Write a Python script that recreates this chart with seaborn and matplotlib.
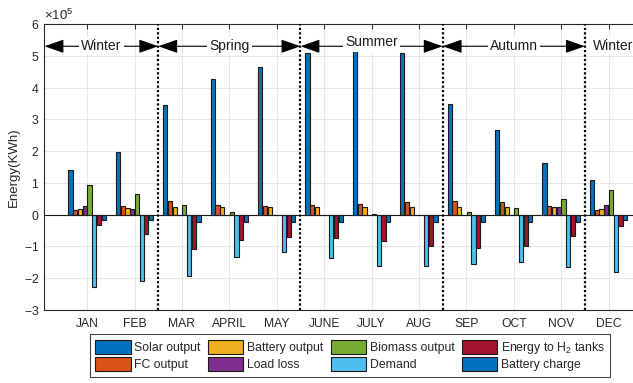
import matplotlib
matplotlib.use("Agg")
import matplotlib.pyplot as plt
import numpy as np
import pandas as pd
import seaborn as sns
from matplotlib.patches import Rectangle
from matplotlib.legend_handler import HandlerPatch
from matplotlib.ticker import ScalarFormatter, MultipleLocator

# Monthly energy balance (kWh)
months = ["JAN", "FEB", "MAR", "APRIL", "MAY", "JUNE", "JULY", "AUG",
          "SEP", "OCT", "NOV", "DEC"]
series = ["Solar output", "FC output", "Battery output", "Load loss",
          "Biomass output", "Demand", "Energy to H$_2$ tanks", "Battery charge"]

solar_output = [142000, 196000, 346000, 428000, 464000, 508000,
                523000, 508000, 348000, 266000, 163000, 110000]
fc_output = [15000, 26000, 44000, 32000, 28000, 29000,
             34000, 41000, 43000, 41000, 28000, 15000]
battery_output = [19000, 20000, 23000, 23000, 25000, 24000,
                  24000, 25000, 23000, 23000, 23000, 18000]
load_loss = [26000, 17000, 0, 0, 0, 0, 0, 0, 0, 0, 23000, 32000]
biomass_output = [93000, 66000, 29000, 9000, 0, 0,
                  1000, 0, 7000, 21000, 48000, 79000]
demand = [-227000, -210000, -194000, -134000, -117000, -136000,
          -163000, -163000, -155000, -149000, -165000, -181000]
energy_to_h2 = [-32000, -61000, -108000, -79000, -71000, -72000,
                -84000, -98000, -104000, -100000, -66000, -36000]
battery_charge = [-17000, -18000, -24000, -23000, -23000, -24000,
                  -24000, -24000, -24000, -24000, -22000, -17000]

seasons = ["Winter", "Spring", "Summer", "Autumn", "Winter"]

colors = ["#0072BD", "#D95319", "#EDB120", "#7E2F8E",
          "#77AC30", "#4DBEEE", "#A2142F", "#0072BD"]

values = [solar_output, fc_output, battery_output, load_loss,
          biomass_output, demand, energy_to_h2, battery_charge]
df = pd.DataFrame({
    "month": np.repeat([months], len(series), axis=0).ravel(),
    "series": np.repeat(series, len(months)),
    "energy": np.concatenate(values),
})

sns.set_theme(style="white")
plt.rcParams["font.family"] = ["Liberation Sans", "DejaVu Sans"]
plt.rcParams["mathtext.fontset"] = "custom"
plt.rcParams["mathtext.rm"] = "Liberation Sans"
plt.rcParams["mathtext.it"] = "Liberation Sans"
plt.rcParams["axes.unicode_minus"] = False

fig = plt.figure(figsize=(6.33, 3.83), dpi=100)
ax = fig.add_axes([0.0703, 0.1906, 0.9585, 0.7467])

sns.barplot(data=df, x="month", y="energy", hue="series", order=months,
            hue_order=series, palette=dict(zip(series, colors)),
            saturation=1, errorbar=None, dodge=True, width=0.8, gap=0.12,
            edgecolor="#1a1a1a", linewidth=0.8, ax=ax, zorder=3)

ax.set_xlim(-0.9, 11.9)
ax.set_ylim(-3e5, 6e5)
ax.yaxis.set_major_locator(MultipleLocator(1e5))
fmt = ScalarFormatter(useMathText=True)
fmt.set_powerlimits((5, 5))
ax.yaxis.set_major_formatter(fmt)
ax.yaxis.get_offset_text().set_fontsize(9.5)
ax.yaxis.get_offset_text().set_color("#262626")

ax.set_xlabel("")
ax.set_ylabel("Energy(KWh)", fontsize=9.5, color="#262626", labelpad=3)
ax.tick_params(direction="in", top=True, right=True, length=3.5,
               width=0.7, colors="#262626", labelsize=8.7)
ax.tick_params(axis="x", pad=6)
ax.tick_params(axis="y", pad=4)
ax.grid(True, color="#e3e3e3", linewidth=0.6, zorder=0)
ax.set_axisbelow(True)
for s in ax.spines.values():
    s.set_color("#262626")
    s.set_linewidth(0.8)

ax.axhline(0, color="#1a1a1a", linewidth=0.8, zorder=4)

# Season boundaries
bounds = [1.5, 4.5, 7.5, 10.5]
for b in bounds:
    ax.axvline(b, color="black", linestyle=(0, (1, 1)), linewidth=1.6, zorder=5)

# Season arrows and names
spans = [(-0.9, 1.5), (1.5, 4.5), (4.5, 7.5), (7.5, 10.5)]
arrow_y = 5.3e5
for (x0, x1) in spans:
    ax.annotate("", xy=(x0, arrow_y), xytext=(x1, arrow_y),
                arrowprops=dict(arrowstyle="<|-|>,head_length=1.0,head_width=0.35",
                                color="black", lw=0.8, shrinkA=0, shrinkB=0),
                zorder=6)
name_pos = [(0.3, 5.3e5), (3.0, 5.3e5), (6.0, 5.42e5), (9.0, 5.3e5),
            (11.1, 5.3e5)]
for name, (x, y) in zip(seasons, name_pos):
    ax.text(x, y, name, ha="center", va="center", fontsize=10,
            color="#1a1a1a", zorder=7,
            bbox=dict(facecolor="white", edgecolor="none", pad=1.5))


def swatch(legend, orig_handle, xdescent, ydescent, width, height, fontsize):
    # fixed-height colour swatch centred in a taller legend row
    h = 14 / 100 * 72  # points
    return Rectangle((-xdescent, -ydescent + (height - h) / 2), width, h)


handles, labels = ax.get_legend_handles_labels()
ax.get_legend().remove()
leg = fig.legend(handles, labels, ncol=4, loc="upper center",
                 bbox_to_anchor=(0.553, 0.128), bbox_transform=fig.transFigure,
                 fontsize=8.8, frameon=True, fancybox=False, framealpha=1,
                 edgecolor="#444444", handlelength=2.9, handleheight=1.7,
                 handletextpad=0.3, columnspacing=0.6, labelspacing=0.0,
                 borderpad=0.4, borderaxespad=0,
                 handler_map={Rectangle: HandlerPatch(patch_func=swatch)})
leg.get_frame().set_linewidth(0.8)

fig.savefig("out.png", dpi=100)
